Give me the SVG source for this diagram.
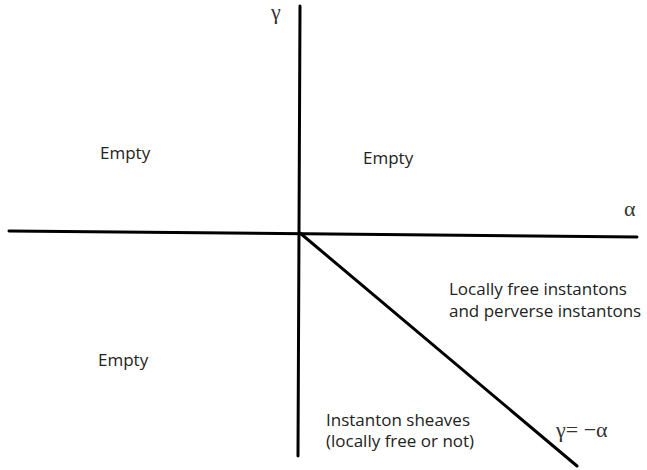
<svg xmlns="http://www.w3.org/2000/svg" width="647" height="470" viewBox="0 0 647 470">
<style>
.ax{stroke:#000;stroke-width:3;fill:none;stroke-linecap:round}
.t{font-family:"Open Sans","Noto Sans",sans-serif;font-size:17px;fill:#222}
.m{font-family:"Liberation Serif","DejaVu Serif",serif;font-size:22px;fill:#333}
</style>
<rect width="647" height="470" fill="#fff"/>
<g id="connectors">
<line class="ax" x1="300" y1="6" x2="298" y2="456"/>
<line class="ax" x1="9" y1="231" x2="637" y2="237"/>
<line class="ax" x1="300" y1="233" x2="577" y2="466"/>
</g>
<g id="gamma-label"><text class="m" x="271" y="19">γ</text></g>
<g id="alpha-label"><text class="m" x="624" y="216">α</text></g>
<g id="empty-ul"><text class="t" x="100" y="159">Empty</text></g>
<g id="empty-ur"><text class="t" x="363" y="164">Empty</text></g>
<g id="empty-ll"><text class="t" x="98" y="366">Empty</text></g>
<g id="locally-free"><text class="t" x="449" y="295">Locally free instantons</text><text class="t" x="449" y="317">and perverse instantons</text></g>
<g id="sheaves"><text class="t" x="326" y="426">Instanton sheaves</text><text class="t" x="326" y="447">(locally free or not)</text></g>
<g id="line-label"><text class="m" x="556" y="437">γ= −α</text></g>
</svg>
